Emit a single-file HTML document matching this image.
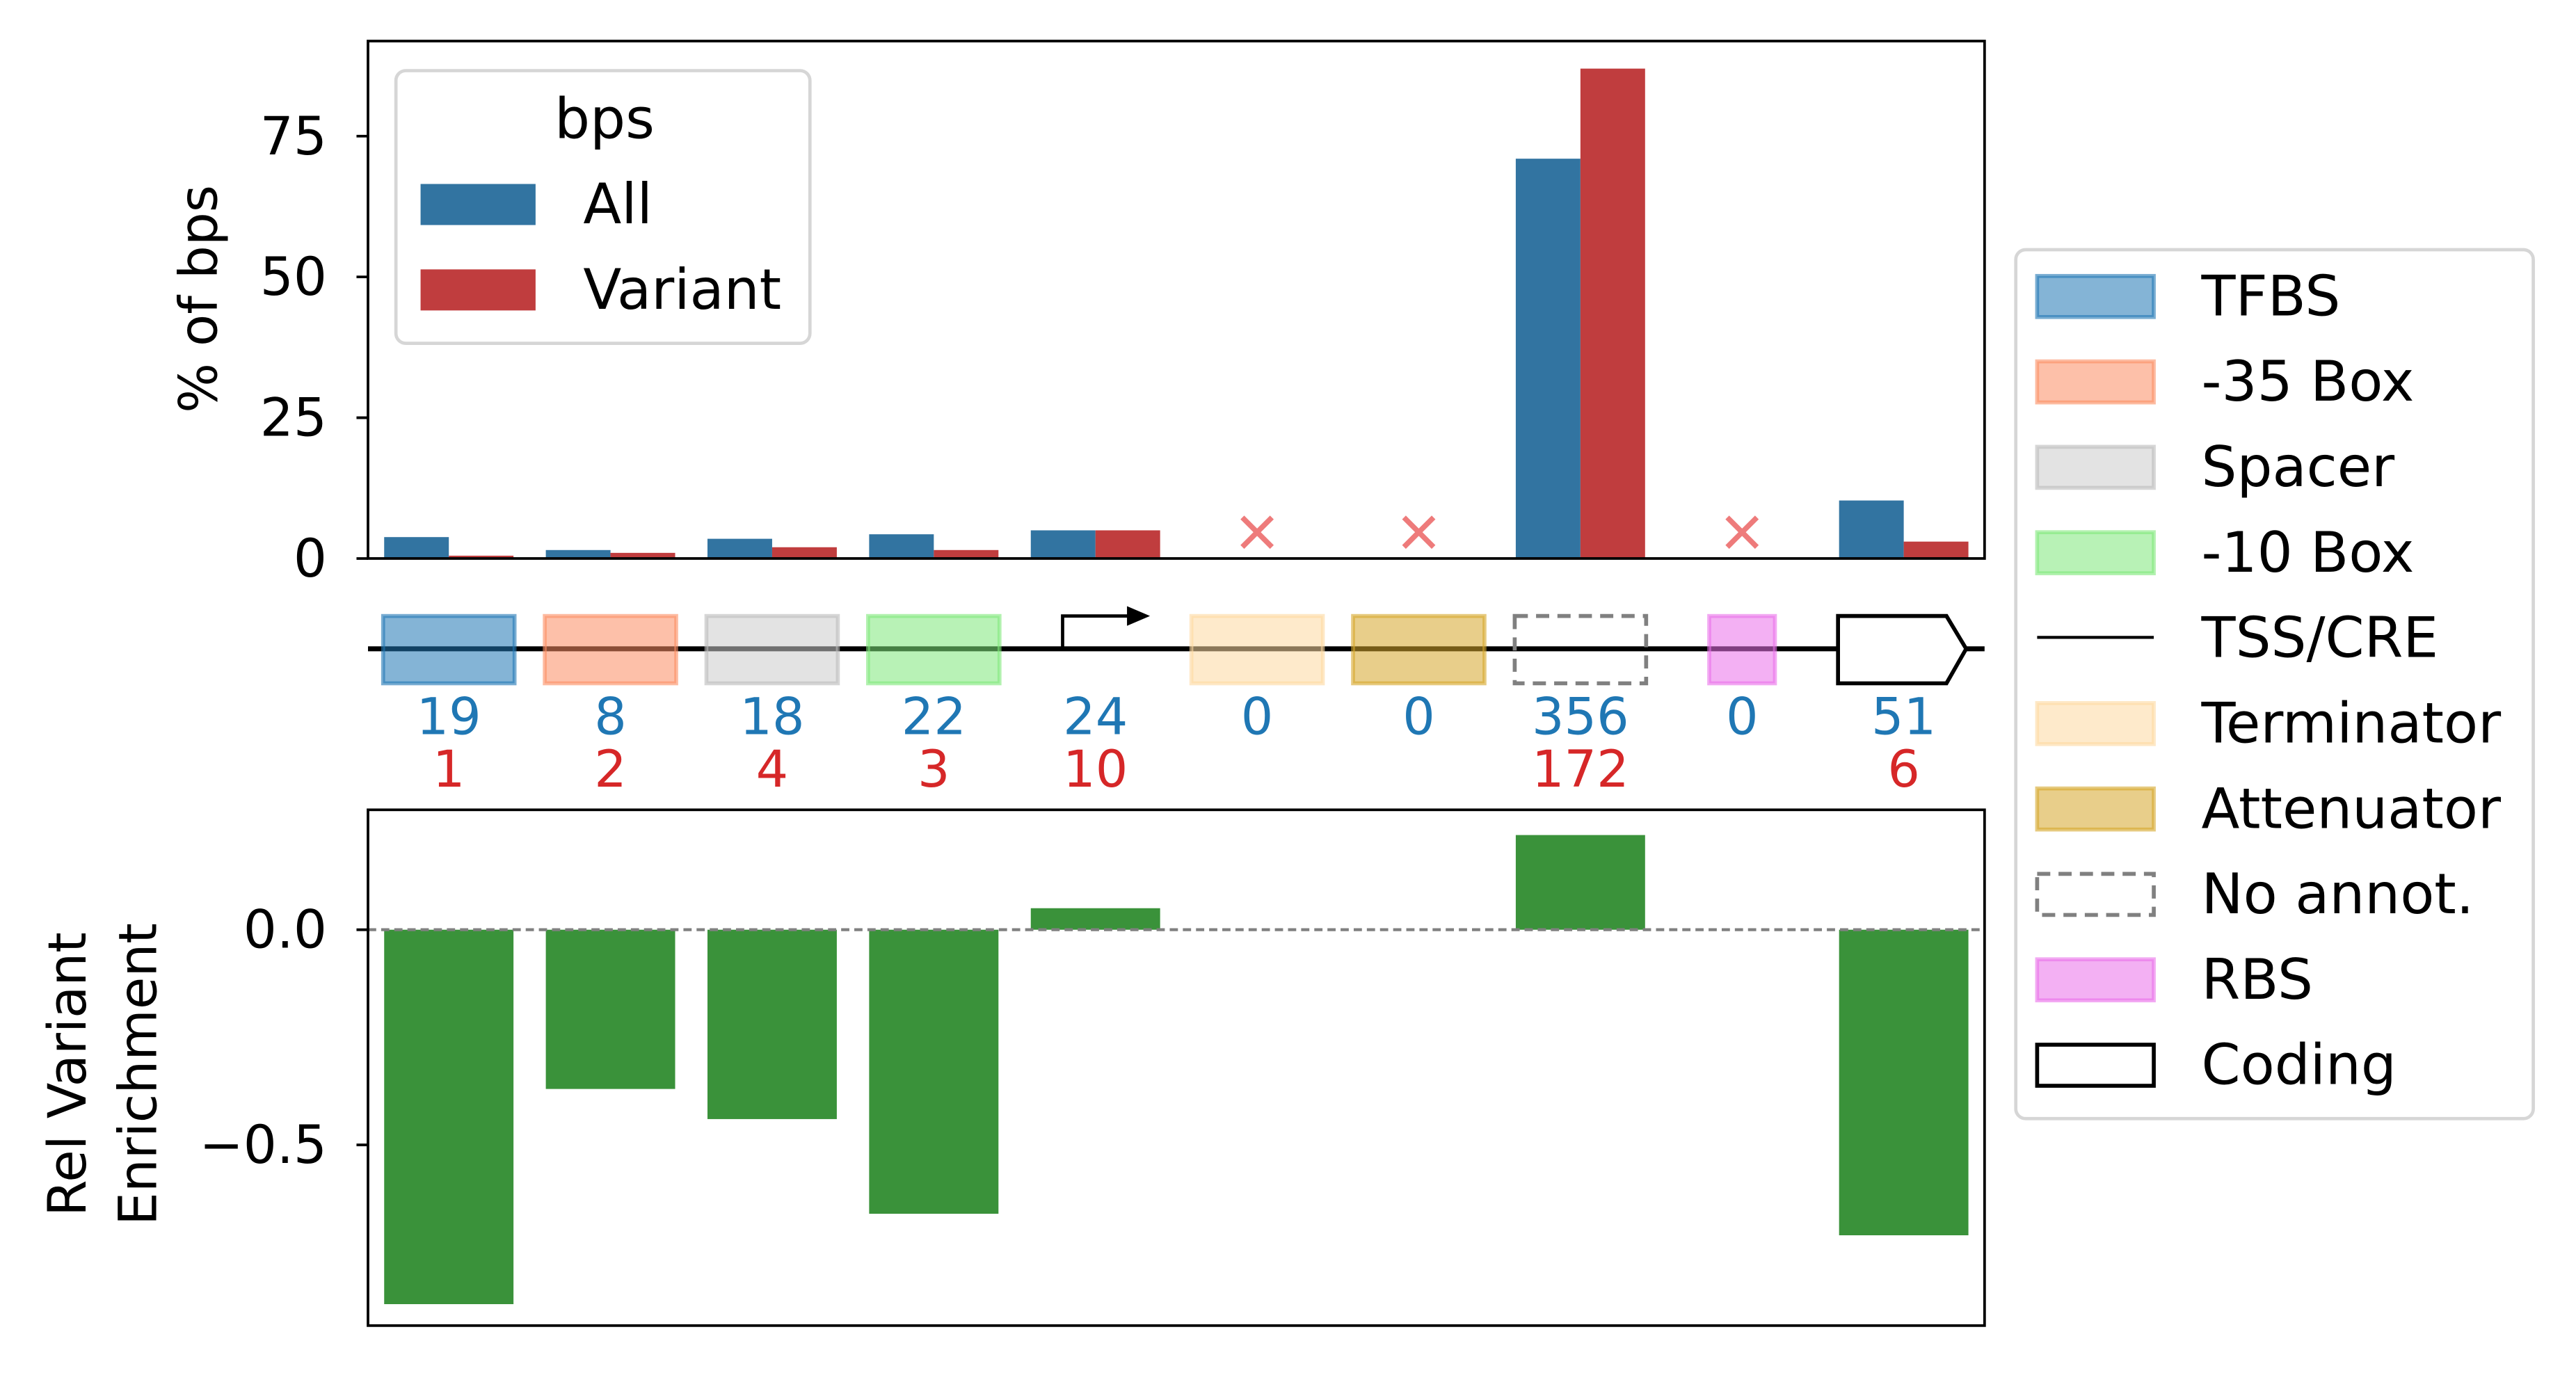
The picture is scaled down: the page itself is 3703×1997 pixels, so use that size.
<!DOCTYPE html>
<html><head><meta charset="utf-8"><style>
html,body{margin:0;padding:0;background:#fff}
svg{display:block}
text{font-family:"DejaVu Sans","Liberation Sans",sans-serif}
</style></head><body>
<svg id="chart" width="3703" height="1997" viewBox="0 0 1568 845.6" preserveAspectRatio="none" xmlns="http://www.w3.org/2000/svg">
<g id="topChart"></g>
<g id="midChart"></g>
<g id="botChart"></g>
<g id="legChart"></g>
</svg>
<script>
const categories = ["TFBS","-35 Box","Spacer","-10 Box","TSS/CRE","Terminator","Attenuator","No annot.","RBS","Coding"];
const allValues = [3.8, 1.5, 3.5, 4.3, 5.0, 0, 0, 71, 0, 10.3];
const variantValues = [0.5, 1.0, 2.0, 1.5, 5.0, 0, 0, 87, 0, 3.0];
const allCounts = [19, 8, 18, 22, 24, 0, 0, 356, 0, 51];
const variantCounts = [1, 2, 4, 3, 10, 0, 0, 172, 0, 6];
const enrichment = [-0.87, -0.37, -0.44, -0.66, 0.05, null, null, 0.22, null, -0.71];
const topTicks = [0, 25, 50, 75];
const botTicks = [0.0, -0.5];
const botTickLabels = ["0.0", "\u22120.5"];

const NS = "http://www.w3.org/2000/svg";
const FS = 32;
const LFS = 34;
function mk(parent, tag, attrs, txt){
  const e = document.createElementNS(NS, tag);
  for (const k in attrs) e.setAttribute(k, attrs[k]);
  if (txt !== undefined) e.textContent = txt;
  parent.appendChild(e);
  return e;
}
const AL = 224, AR = 1208, NC = categories.length, stepX = (AR - AL) / NC;
const cx = i => AL + stepX * (i + 0.5);
const yTop = v => 340 - v * (85.7 / 25);
const yBot = v => 566 - v * (131 / 0.5);

const topG = document.getElementById('topChart');
categories.forEach((c, i) => {
  const w = stepX * 0.4;
  if (allValues[i] > 0) {
    const b = mk(topG, 'rect', {x: cx(i) - w, y: yTop(allValues[i]), width: w, height: 340 - yTop(allValues[i]), fill: '#3274a1'});
    
    
  }
  if (variantValues[i] > 0) {
    const b = mk(topG, 'rect', {x: cx(i), y: yTop(variantValues[i]), width: w, height: 340 - yTop(variantValues[i]), fill: '#c03d3e'});
    
    
  }
  if (allCounts[i] === 0) {
    const m = mk(topG, 'path', {d: `M${cx(i)-9},315 l18,18 M${cx(i)+9},315 l-18,18`, stroke: '#ee7b7b', 'stroke-width': 3.2, fill: 'none'});
    
    
  }
});
mk(topG, 'rect', {x: AL, y: 25, width: AR - AL, height: 315, fill: 'none', stroke: '#000', 'stroke-width': 1.6});
topTicks.forEach(t => {
  mk(topG, 'line', {x1: AL - 7, x2: AL, y1: yTop(t), y2: yTop(t), stroke: '#000', 'stroke-width': 1.6});
  const tl = mk(topG, 'text', {x: 199, y: yTop(t) + 11, 'font-size': FS, 'text-anchor': 'end'}, String(t));
  
  
});
const yl = mk(topG, 'text', {x: 0, y: 0, 'font-size': FS, 'text-anchor': 'middle', transform: 'translate(132,182) rotate(-90)'}, '% of bps');



const midG = document.getElementById('midChart');
mk(midG, 'line', {x1: AL, x2: AR, y1: 395, y2: 395, stroke: '#000', 'stroke-width': 3});
const boxStyles = [
  ['#1f77b4', '#1f77b4'], ['#fc8d62', '#fc8d62'], ['#cccccc', '#bbbbbb'], ['#7ee87a', '#7ee87a'], null,
  ['#fdd9a0', '#fdd9a0'], ['#d6a62a', '#d6a62a'], 'dash', ['#ea6fea', '#ea6fea'], 'coding'
];
categories.forEach((c, i) => {
  const x = cx(i);
  const s = boxStyles[i];
  let el;
  if (s === null) {
    el = mk(midG, 'g', {});
    mk(el, 'path', {d: `M${x-20},395 V375 H688`, stroke: '#000', 'stroke-width': 2, fill: 'none'});
    mk(el, 'path', {d: `M686,369 L700,375 L686,381 Z`, fill: '#000'});
  } else if (s === 'dash') {
    el = mk(midG, 'rect', {x: x - 40, y: 375, width: 80, height: 41, fill: 'none', stroke: '#808080', 'stroke-width': 2.4, 'stroke-dasharray': '8,5'});
  } else if (s === 'coding') {
    el = mk(midG, 'path', {d: `M${x-40},375 H${x+26} L${x+38},395 L${x+26},416 H${x-40} Z`, fill: '#fff', stroke: '#000', 'stroke-width': 2.4});
  } else {
    const w = i === 8 ? 40 : 80;
    el = mk(midG, 'rect', {x: x - w / 2, y: 375, width: w, height: 41, fill: s[0], 'fill-opacity': 0.55, stroke: s[1], 'stroke-opacity': 0.6, 'stroke-width': 2.4});
  }
  
  
  const t1 = mk(midG, 'text', {x: x, y: 447, 'font-size': 31, 'text-anchor': 'middle', fill: '#1f77b4'}, String(allCounts[i]));
  
  
  if (variantCounts[i] > 0) {
    const t2 = mk(midG, 'text', {x: x, y: 479, 'font-size': 31, 'text-anchor': 'middle', fill: '#d62728'}, String(variantCounts[i]));
    
    
  }
});

const botG = document.getElementById('botChart');
enrichment.forEach((v, i) => {
  if (v === null) return;
  const y0 = yBot(0), y1 = yBot(v);
  const b = mk(botG, 'rect', {x: cx(i) - stepX * 0.4, y: Math.min(y0, y1), width: stepX * 0.8, height: Math.abs(y1 - y0), fill: '#3a923a'});
  
  
});
mk(botG, 'line', {x1: AL, x2: AR, y1: yBot(0), y2: yBot(0), stroke: '#808080', 'stroke-width': 1.8, 'stroke-dasharray': '5,3'});
mk(botG, 'rect', {x: AL, y: 493, width: AR - AL, height: 314, fill: 'none', stroke: '#000', 'stroke-width': 1.6});
botTicks.forEach((t, k) => {
  mk(botG, 'line', {x1: AL - 7, x2: AL, y1: yBot(t), y2: yBot(t), stroke: '#000', 'stroke-width': 1.6});
  const tl = mk(botG, 'text', {x: 199, y: yBot(t) + 11, 'font-size': FS, 'text-anchor': 'end'}, botTickLabels[k]);
  
  
});
const bl = mk(botG, 'text', {'font-size': FS, 'text-anchor': 'middle', transform: 'translate(0,654) rotate(-90)'});


mk(bl, 'tspan', {x: 0, y: 52}, 'Rel Variant');
mk(bl, 'tspan', {x: 0, y: 95}, 'Enrichment');

const legG = document.getElementById('legChart');
const lg1 = mk(legG, 'g', {});


mk(lg1, 'rect', {x: 241, y: 43, width: 252, height: 166, rx: 6, fill: '#fff', stroke: '#d6d6d6', 'stroke-width': 2});
mk(lg1, 'text', {x: 368, y: 84, 'font-size': LFS, 'text-anchor': 'middle'}, 'bps');
mk(lg1, 'rect', {x: 256, y: 112, width: 70, height: 25, fill: '#3274a1'});
mk(lg1, 'text', {x: 355, y: 136, 'font-size': LFS}, 'All');
mk(lg1, 'rect', {x: 256, y: 164, width: 70, height: 25, fill: '#c03d3e'});
mk(lg1, 'text', {x: 355, y: 188, 'font-size': LFS}, 'Variant');

const lg2 = mk(legG, 'g', {});


mk(lg2, 'rect', {x: 1227, y: 152, width: 315, height: 529, rx: 6, fill: '#fff', stroke: '#d6d6d6', 'stroke-width': 2});
categories.forEach((c, i) => {
  const y = 180 + i * 52;
  const s = boxStyles[i];
  if (s === null) {
    mk(lg2, 'line', {x1: 1240, x2: 1311, y1: y, y2: y, stroke: '#000', 'stroke-width': 1.8});
  } else if (s === 'dash') {
    mk(lg2, 'rect', {x: 1240, y: y - 12, width: 71, height: 25, fill: 'none', stroke: '#808080', 'stroke-width': 2.4, 'stroke-dasharray': '8,5'});
  } else if (s === 'coding') {
    mk(lg2, 'rect', {x: 1240, y: y - 12, width: 71, height: 25, fill: 'none', stroke: '#000', 'stroke-width': 2.4});
  } else {
    mk(lg2, 'rect', {x: 1240, y: y - 12, width: 71, height: 25, fill: s[0], 'fill-opacity': 0.55, stroke: s[1], 'stroke-opacity': 0.6, 'stroke-width': 2.4});
  }
  const t = mk(lg2, 'text', {x: 1340, y: y + 12, 'font-size': LFS}, c);
  
  
});
</script>
</body></html>
